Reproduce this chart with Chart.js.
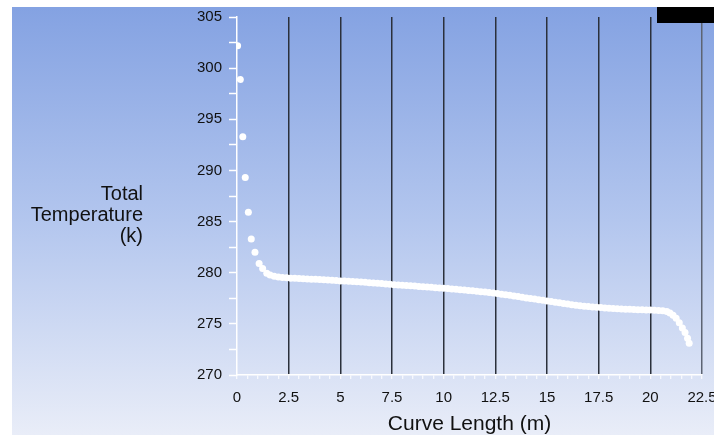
<!DOCTYPE html>
<html>
<head>
<meta charset="utf-8">
<script src="https://cdn.jsdelivr.net/npm/chart.js@4/dist/chart.umd.min.js"></script>
<style>
  html, body { margin: 0; padding: 0; background: #ffffff; }
  #wrap { width: 714px; height: 438px; position: relative; }
</style>
</head>
<body>
<div id="wrap"><canvas id="c" width="714" height="438"></canvas></div>
<script>
// ---- Data ----
const curveLength = [
  0.03, 0.16, 0.28, 0.40, 0.55, 0.69, 0.87, 1.07, 1.24, 1.44,
  1.6, 1.8, 2.0, 2.2, 2.4, 2.6, 2.8, 3.0, 3.2, 3.4, 3.6, 3.8,
  4.0, 4.2, 4.4, 4.6, 4.8, 5.0, 5.2, 5.4, 5.6, 5.8, 6.0, 6.2,
  6.4, 6.6, 6.8, 7.0, 7.2, 7.4, 7.6, 7.8, 8.0, 8.2, 8.4, 8.6,
  8.8, 9.0, 9.2, 9.4, 9.6, 9.8, 10.0, 10.2, 10.4, 10.6, 10.8,
  11.0, 11.2, 11.4, 11.6, 11.8, 12.0, 12.2, 12.4, 12.6, 12.8,
  13.0, 13.2, 13.4, 13.6, 13.8, 14.0, 14.2, 14.4, 14.6, 14.8,
  15.0, 15.2, 15.4, 15.6, 15.8, 16.0, 16.2, 16.4, 16.6, 16.8,
  17.0, 17.2, 17.4, 17.6, 17.8, 18.0, 18.2, 18.4, 18.6, 18.8,
  19.0, 19.2, 19.4, 19.6, 19.8, 20.0, 20.2, 20.4, 20.6, 20.8,
  20.95, 21.1, 21.25, 21.4, 21.55, 21.68, 21.8, 21.88
];
const totalTemperature = [
  302.2, 298.9, 293.3, 289.3, 285.9, 283.3, 282.0, 280.9, 280.4, 279.95,
  279.78, 279.66, 279.58, 279.54, 279.50, 279.47, 279.45, 279.43, 279.41, 279.39, 279.37, 279.35,
  279.33, 279.31, 279.29, 279.26, 279.23, 279.20, 279.18, 279.16, 279.13, 279.11, 279.08, 279.06,
  279.03, 279.00, 278.97, 278.94, 278.90, 278.86, 278.83, 278.80, 278.77, 278.74, 278.72, 278.69,
  278.66, 278.63, 278.60, 278.57, 278.54, 278.51, 278.48, 278.45, 278.42, 278.38, 278.34,
  278.30, 278.27, 278.23, 278.19, 278.15, 278.11, 278.06, 278.01, 277.96, 277.90,
  277.85, 277.79, 277.73, 277.67, 277.60, 277.54, 277.48, 277.42, 277.36, 277.30,
  277.24, 277.18, 277.12, 277.06, 277.00, 276.94, 276.88, 276.83, 276.78, 276.73,
  276.69, 276.65, 276.62, 276.59, 276.56, 276.53, 276.50, 276.48, 276.46, 276.44,
  276.42, 276.40, 276.38, 276.37, 276.36, 276.35, 276.33, 276.31, 276.28, 276.20,
  276.05, 275.85, 275.55, 275.10, 274.60, 274.15, 273.60, 273.10
];
const xTickLabels = ['0', '2.5', '5', '7.5', '10', '12.5', '15', '17.5', '20', '22.5'];
const yTickLabels = ['270', '275', '280', '285', '290', '295', '300', '305'];
const xAxisTitle = 'Curve Length (m)';
const yAxisTitleLines = ['Total', 'Temperature', '(k)'];

// ---- Build chart ----
const points = curveLength.map((x, i) => ({ x: x, y: totalTemperature[i] }));
const xMajor = xTickLabels.map(Number);
const yMajor = yTickLabels.map(Number);
const isMajorX = v => xMajor.some(m => Math.abs(m - v) < 1e-6);
const FONT = '"Liberation Sans", Arial, sans-serif';

const backgroundPlugin = {
  id: 'bg',
  beforeDraw(chart) {
    const ctx = chart.ctx;
    ctx.save();
    ctx.fillStyle = '#ffffff';
    ctx.fillRect(0, 0, chart.width, chart.height);
    const g = ctx.createLinearGradient(0, 7, 0, 435);
    g.addColorStop(0, '#84a2e2');
    g.addColorStop(0.5, '#b3c6ee');
    g.addColorStop(1, '#e9edf8');
    ctx.fillStyle = g;
    ctx.fillRect(12, 7, chart.width - 12, 428);
    ctx.restore();
  },
  afterDraw(chart) {
    const ctx = chart.ctx;
    ctx.save();
    // y-axis title (horizontal, right aligned)
    ctx.fillStyle = '#111111';
    ctx.font = '20px ' + FONT;
    ctx.textAlign = 'right';
    ctx.textBaseline = 'middle';
    const yMid = (chart.chartArea.top + chart.chartArea.bottom) / 2;
    const lh = 21;
    yAxisTitleLines.forEach((t, i) => {
      ctx.fillText(t, 143, yMid + 19 + (i - 1) * lh);
    });
    // black box at top right
    ctx.fillStyle = '#000000';
    ctx.fillRect(657, 7, chart.width - 657, 16);
    ctx.restore();
  }
};

new Chart(document.getElementById('c'), {
  type: 'scatter',
  data: {
    datasets: [{
      data: points,
      showLine: false,
      pointRadius: 3.5,
      pointHoverRadius: 3.5,
      pointBackgroundColor: '#ffffff',
      pointBorderWidth: 0,
      pointBorderColor: '#ffffff'
    }]
  },
  options: {
    responsive: false,
    animation: false,
    events: [],
    layout: { padding: { top: 17, right: 0, left: 0, bottom: 0 } },
    plugins: { legend: { display: false }, tooltip: { enabled: false } },
    scales: {
      x: {
        type: 'linear',
        min: xMajor[0],
        max: xMajor[xMajor.length - 1],
        afterFit(scale) {
          scale.height = 63;
          scale.paddingRight = 12;
          scale.paddingLeft = 0;
        },
        afterBuildTicks(scale) {
          const t = [];
          for (let i = 0; i <= 45; i++) t.push({ value: i * 0.5 });
          scale.ticks = t;
        },
        ticks: {
          autoSkip: false,
          maxRotation: 0,
          padding: 10,
          color: '#111111',
          font: { family: FONT, size: 15 },
          callback(v) {
            const idx = xMajor.findIndex(m => Math.abs(m - v) < 1e-6);
            return idx >= 0 ? xTickLabels[idx] : '';
          }
        },
        grid: {
          drawOnChartArea: true,
          drawTicks: true,
          tickLength: 4,
          tickColor: '#ffffff',
          tickWidth: 1,
          color(ctx) {
            const v = ctx.tick ? ctx.tick.value : 0;
            if (!isMajorX(v) || v === 0) return 'rgba(0,0,0,0)';
            return v === 22.5 ? '#5d6473' : '#2b303b';
          },
          lineWidth: 1.5
        },
        border: { display: true, color: '#ffffff', width: 1.5 },
        title: {
          display: true,
          text: xAxisTitle,
          color: '#111111',
          padding: 0,
          font: { family: FONT, size: 21, lineHeight: 1.35 }
        }
      },
      y: {
        type: 'linear',
        min: yMajor[0],
        max: yMajor[yMajor.length - 1],
        afterFit(scale) { scale.width = 237; },
        afterBuildTicks(scale) {
          const t = [];
          for (let i = 0; i <= 14; i++) t.push({ value: yMajor[0] + i * 2.5 });
          scale.ticks = t;
        },
        ticks: {
          autoSkip: false,
          padding: 7,
          color: '#111111',
          font: { family: FONT, size: 15 },
          callback(v) {
            const idx = yMajor.findIndex(m => Math.abs(m - v) < 1e-6);
            return idx >= 0 ? yTickLabels[idx] : '';
          }
        },
        grid: {
          drawOnChartArea: false,
          drawTicks: true,
          tickLength: 8,
          tickColor: '#ffffff',
          tickWidth: 1.5
        },
        border: { display: true, color: '#ffffff', width: 1.5 }
      }
    }
  },
  plugins: [backgroundPlugin]
});
</script>
</body>
</html>
